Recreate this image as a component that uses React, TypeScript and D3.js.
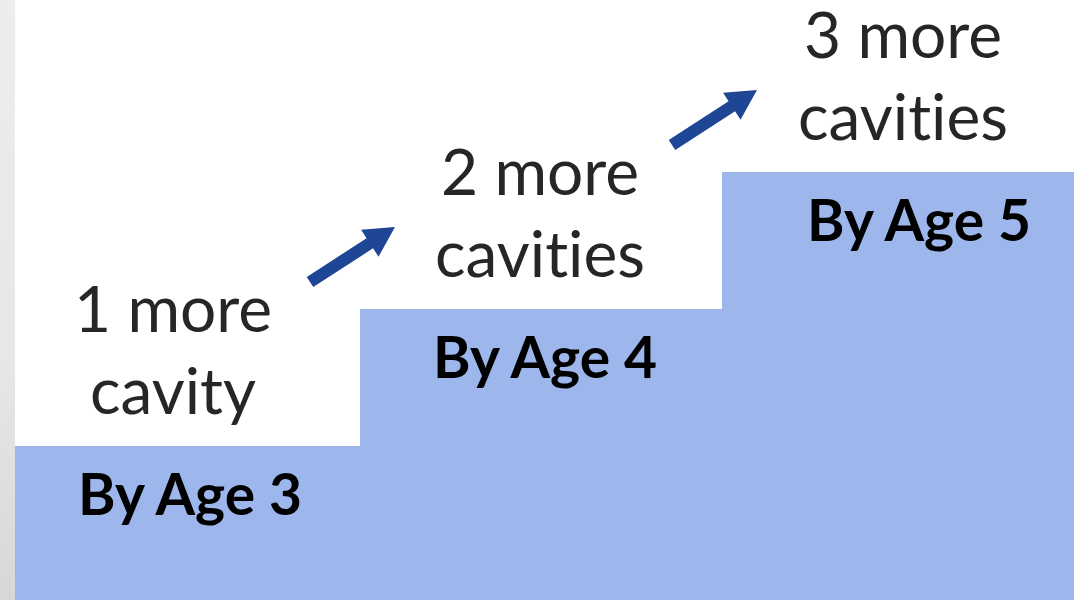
import React from "react";
import * as d3 from "d3";

const steps = ["By Age 3", "By Age 4", "By Age 5"];
const cavities = [1, 2, 3];
const topLines = ["1 more", "2 more", "3 more"];
const bottomLines = ["cavity", "cavities", "cavities"];

const W = 1074;
const H = 600;
const boldDx = [11, 4, 16];
const noteDx = [-6, -1, 0];

export default function App() {
  const x = d3.scaleBand<string>().domain(steps).range([-2, 1084]).paddingInner(0).paddingOuter(0);
  const y = d3.scaleLinear().domain([0, 3]).range([583, 172]);
  const bw = x.bandwidth();

  const arrowPath = (x0: number, y0: number, x1: number, y1: number) => {
    const dx = x1 - x0, dy = y1 - y0;
    const len = Math.hypot(dx, dy);
    const ux = dx / len, uy = dy / len;
    const nx = -uy, ny = ux;
    const sw = 6, hw = 16, hl = 30;
    const bx = x1 - ux * hl, by = y1 - uy * hl;
    const pts: [number, number][] = [
      [x0 + nx * sw, y0 + ny * sw],
      [bx + nx * sw, by + ny * sw],
      [bx + nx * hw, by + ny * hw],
      [x1, y1],
      [bx - nx * hw, by - ny * hw],
      [bx - nx * sw, by - ny * sw],
      [x0 - nx * sw, y0 - ny * sw],
    ];
    return d3.line()(pts)! + "Z";
  };

  const font = "Lato, 'Open Sans', sans-serif";
  const txtStyle = { fontVariantLigatures: "none" as const };

  return (
    <div style={{ position: "fixed", left: 0, top: 0, width: W, height: H, background: "#fff" }}>
      <svg width={W} height={H} style={{ display: "block" }}>
        <defs>
          <linearGradient id="strip" x1="0" y1="0" x2="0" y2="1">
            <stop offset="0" stopColor="#ECEEEC" />
            <stop offset="0.6" stopColor="#E6E8E7" />
            <stop offset="1" stopColor="#D6D7D9" />
          </linearGradient>
        </defs>
        <rect x={0} y={0} width={W} height={H} fill="#fff" />
        {steps.map((s, i) => (
          <rect key={s} x={x(s)!} y={y(cavities[i])} width={bw + 1} height={H - y(cavities[i])} fill="#9DB7EC" shapeRendering="crispEdges" />
        ))}
        {steps.map((s, i) => {
          const cx = x(s)! + bw / 2;
          const top = y(cavities[i]);
          return (
            <g key={"t" + s} style={txtStyle}>
              <text x={cx + boldDx[i]} y={top + 69} textAnchor="middle" fontFamily={font} fontWeight="bold" fontSize={57} fill="#000">{s}</text>
              <text x={cx + noteDx[i]} y={top - 114} textAnchor="middle" fontFamily={font} fontSize={64} fill="#262626">{topLines[i]}</text>
              <text x={cx + noteDx[i]} y={top - 32} textAnchor="middle" fontFamily={font} fontSize={64} fill="#262626">{bottomLines[i]}</text>
            </g>
          );
        })}
        {steps.slice(1).map((s, i) => {
          const bx = x(s)!;
          const top = y(cavities[i + 1]);
          return (
            <path key={"a" + s} d={arrowPath(bx - 50, top - 27, bx + 35, top - 82)} fill="#1F4694" />
          );
        })}
        <rect x={0} y={0} width={15} height={H} fill="url(#strip)" />
      </svg>
    </div>
  );
}
